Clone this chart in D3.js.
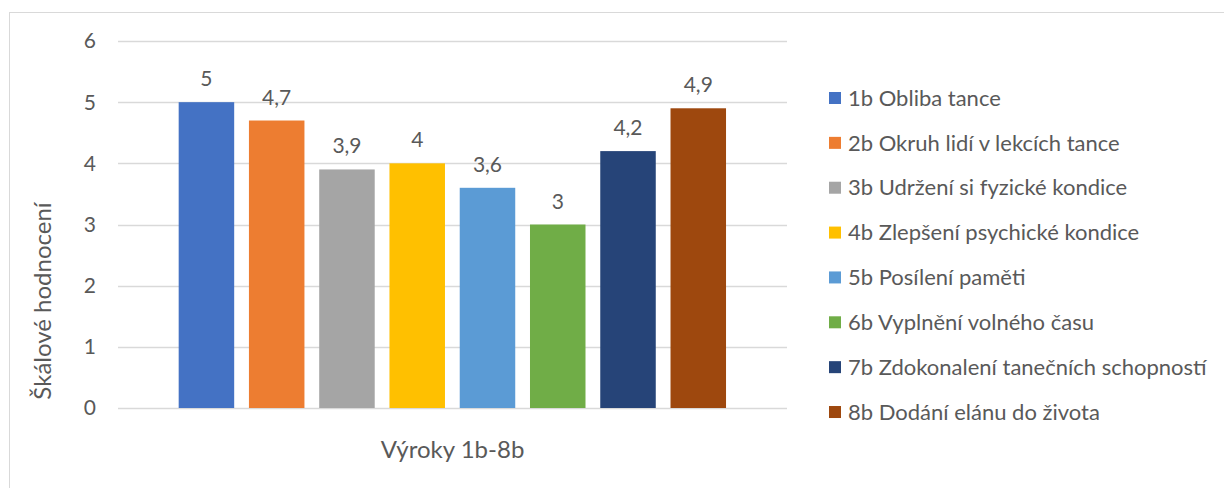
<!DOCTYPE html>
<html>
<head>
<meta charset="utf-8">
<script src="https://cdn.jsdelivr.net/npm/d3@7"></script>
<style>
  body { margin: 0; background: #fff; }
  text { font-family: Lato, "Open Sans", sans-serif; fill: #595959; }
</style>
</head>
<body>
<svg width="1224" height="488"></svg>
<script>
var series = ["1b Obliba tance", "2b Okruh lidí v lekcích tance", "3b Udržení si fyzické kondice",
    "4b Zlepšení psychické kondice", "5b Posílení paměti", "6b Vyplnění volného času",
    "7b Zdokonalení tanečních schopností", "8b Dodání elánu do života"];
var values = [5, 4.7, 3.9, 4, 3.6, 3, 4.2, 4.9];
var colors = ["#4472C4", "#ED7D31", "#A5A5A5", "#FFC000", "#5B9BD5", "#70AD47", "#264478", "#9E480E"];
var yTicks = [0, 1, 2, 3, 4, 5, 6];

var svg = d3.select("svg");

// chart area border
svg.append("rect")
    .attr("x", 9.5).attr("y", 12.5)
    .attr("width", 1400).attr("height", 600)
    .attr("fill", "none")
    .attr("stroke", "#D9D9D9");

var left = 118, right = 787;
var y = d3.scaleLinear().domain([0, 6]).range([408, 41]);
var x = d3.scaleBand().domain(series)
    .range([171.3, 733.4])
    .paddingInner(0.21).paddingOuter(0.105);

// gridlines
svg.append("g").selectAll("line")
    .data(yTicks)
    .join("line")
    .attr("x1", left).attr("x2", right)
    .attr("y1", d => Math.round(y(d)) + 0.5)
    .attr("y2", d => Math.round(y(d)) + 0.5)
    .attr("stroke", "#D9D9D9")
    .attr("stroke-width", 1.5);

// y tick labels
svg.append("g").selectAll("text")
    .data(yTicks)
    .join("text")
    .attr("x", 96)
    .attr("y", d => y(d))
    .attr("dy", "0.35em")
    .attr("text-anchor", "end")
    .style("font-size", "21px")
    .text(d => d);

// bars
svg.append("g").selectAll("rect")
    .data(values)
    .join("rect")
    .attr("x", (d, i) => x(series[i]))
    .attr("y", d => y(d))
    .attr("width", x.bandwidth())
    .attr("height", d => y(0) - y(d))
    .attr("fill", (d, i) => colors[i]);

// data labels
svg.append("g").selectAll("text")
    .data(values)
    .join("text")
    .attr("x", (d, i) => x(series[i]) + x.bandwidth() / 2)
    .attr("y", d => y(d) - 16)
    .attr("text-anchor", "middle")
    .style("font-size", "21px")
    .text(d => String(d).replace(".", ","));

// axis titles
svg.append("text")
    .attr("x", (left + right) / 2)
    .attr("y", 458)
    .attr("text-anchor", "middle")
    .style("font-size", "24px")
    .text("Výroky 1b-8b");

svg.append("text")
    .attr("transform", "translate(51,301) rotate(-90)")
    .attr("text-anchor", "middle")
    .style("font-size", "24px")
    .text("Škálové hodnocení");

// legend
var legend = svg.append("g").selectAll("g")
    .data(series)
    .join("g")
    .attr("transform", (d, i) => "translate(829," + (98 + i * 44.86) + ")");

legend.append("rect")
    .attr("x", 0).attr("y", -6)
    .attr("width", 12).attr("height", 12)
    .attr("fill", (d, i) => colors[i]);

legend.append("text")
    .attr("x", 19)
    .attr("dy", "0.35em")
    .style("font-size", "22px")
    .text(d => d);
</script>
</body>
</html>
